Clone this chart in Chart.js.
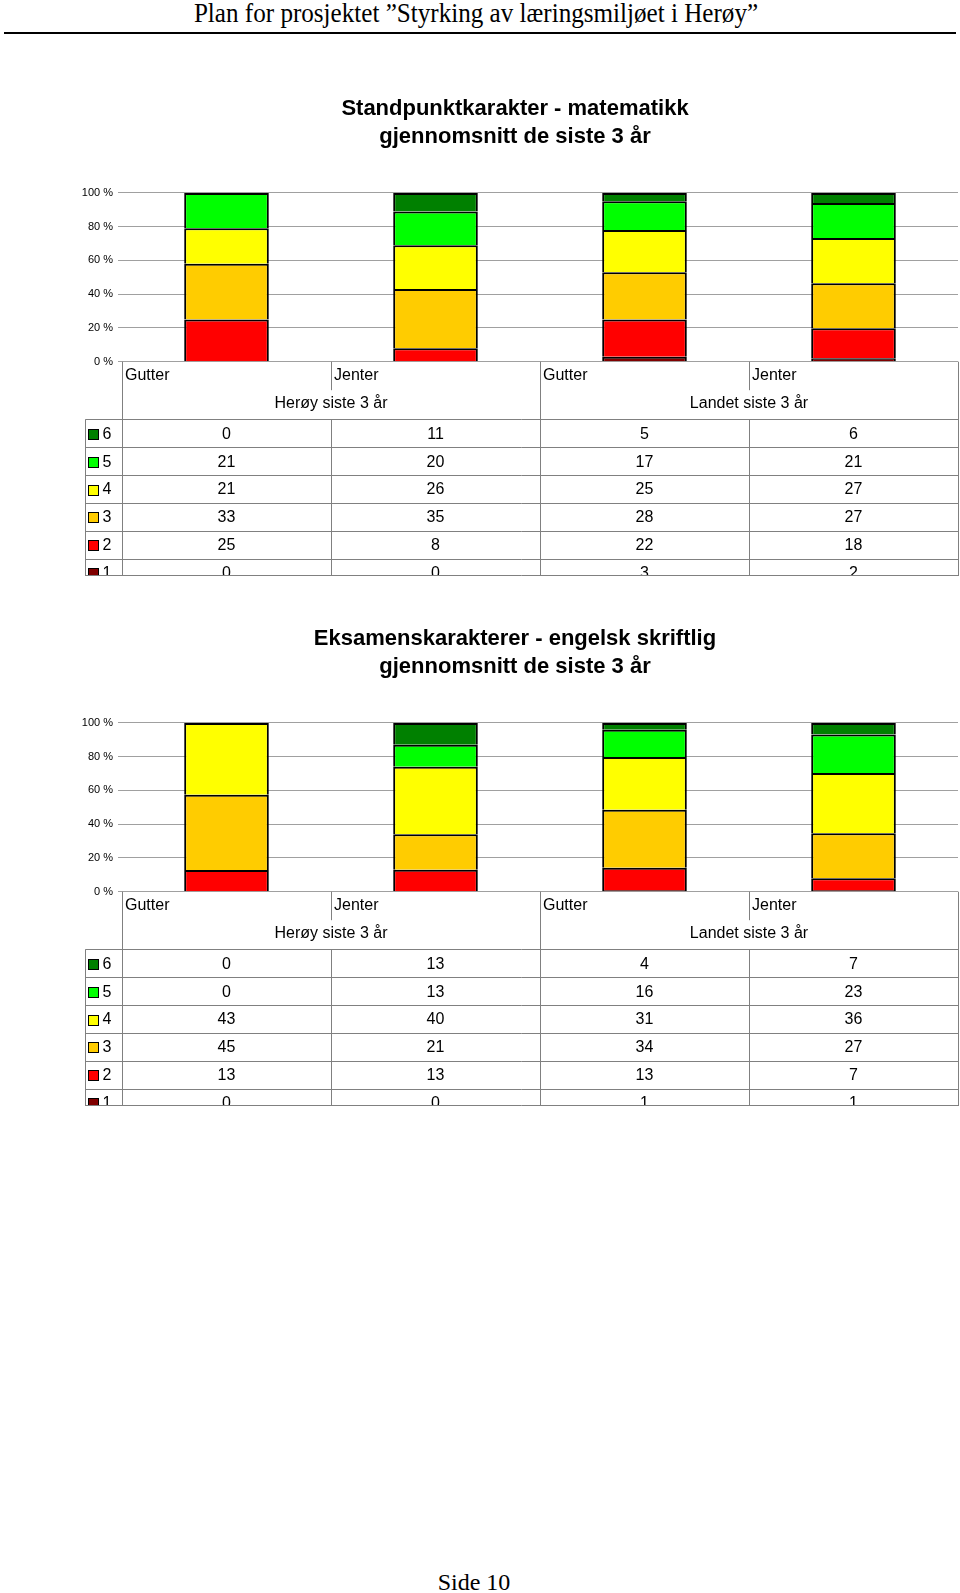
<!DOCTYPE html>
<html>
<head>
<meta charset="utf-8">
<script src="https://cdn.jsdelivr.net/npm/chart.js@4.4.0/dist/chart.umd.min.js"></script>
<style>
  body { margin: 0; background: #fff; width: 960px; height: 1593px; position: relative; overflow: hidden; }
  .serif { position: absolute; font-family: "Liberation Serif", "Times New Roman", serif; font-size: 24px; line-height: 26px; text-align: center; color: #000; }
  #head { left: 0; top: -1px; width: 952px; font-size: 27px; line-height: 28px; transform: scaleX(0.93); transform-origin: 476px 0; }
  #rule { position: absolute; left: 4px; top: 32px; width: 952px; height: 2px; background: #000; }
  #foot { left: 0; top: 1569px; width: 948px; }
  canvas { position: absolute; left: 72px; }
  #mathChart { top: 70px; }
  #engChart { top: 600px; }
</style>
</head>
<body>
<div id="head" class="serif">Plan for prosjektet ”Styrking av læringsmiljøet i Herøy”</div>
<div id="rule"></div>
<canvas id="mathChart" width="888" height="510"></canvas>
<canvas id="engChart" width="888" height="510"></canvas>
<div id="foot" class="serif">Side 10</div>

<script>
const categories = ["Gutter", "Jenter", "Gutter", "Jenter"];
const groups = ["Herøy siste 3 år", "Landet siste 3 år"];
const grades = ["6", "5", "4", "3", "2", "1"];
const yTickLabels = ["0 %", "20 %", "40 %", "60 %", "80 %", "100 %"];

// Standpunktkarakter matematikk (prosent per karakter)
const math6 = [0, 11, 5, 6];
const math5 = [21, 20, 17, 21];
const math4 = [21, 26, 25, 27];
const math3 = [33, 35, 28, 27];
const math2 = [25, 8, 22, 18];
const math1 = [0, 0, 3, 2];

// Eksamenskarakterer engelsk skriftlig
const eng6 = [0, 13, 4, 7];
const eng5 = [0, 13, 16, 23];
const eng4 = [43, 40, 31, 36];
const eng3 = [45, 21, 34, 27];
const eng2 = [13, 13, 13, 7];
const eng1 = [0, 0, 1, 1];

const gradeColors = ["#008000", "#00ff00", "#ffff00", "#ffcc00", "#ff0000", "#800000"];
const sans = '"Liberation Sans", Arial, sans-serif';

// draws the data table under the plot, columns follow the x scale
function tablePlugin(rows) {
  return {
    id: "dataTable",
    afterDraw(chart) {
      const ctx = chart.ctx;
      const a = chart.chartArea;
      const xs = chart.scales.x;
      const n = categories.length;
      const colW = (a.right - a.left) / n;
      const legendLeft = a.left - 37;
      const head1 = 28.5, headH = 57.6, rowH = 27.9;
      const top = a.bottom;
      const tTop = top + headH;
      const bottom = top + 214.3;

      ctx.save();
      ctx.strokeStyle = "#808080";
      ctx.lineWidth = 1;
      ctx.beginPath();
      for (let i = 0; i <= n; i++) {
        const px = Math.round(a.left + i * colW) + 0.5;
        if (i % 2 === 0) {
          ctx.moveTo(px, top); ctx.lineTo(px, bottom);
        } else {
          ctx.moveTo(px, top); ctx.lineTo(px, top + head1);
          ctx.moveTo(px, tTop); ctx.lineTo(px, bottom);
        }
      }
      const lx = Math.round(legendLeft) + 0.5;
      ctx.moveTo(lx, tTop); ctx.lineTo(lx, bottom);
      for (let r = 0; r < rows.length; r++) {
        const py = Math.round(tTop + r * rowH) + 0.5;
        ctx.moveTo(lx, py); ctx.lineTo(a.right, py);
      }
      const by = Math.round(bottom) - 0.5;
      ctx.moveTo(lx, by); ctx.lineTo(a.right, by);
      ctx.stroke();

      ctx.fillStyle = "#000";
      ctx.font = "16px " + sans;
      ctx.textBaseline = "middle";
      ctx.textAlign = "left";
      categories.forEach((c, i) => {
        ctx.fillText(c, xs.getPixelForValue(i) - colW / 2 + 3, top + 13.5);
      });
      ctx.textAlign = "center";
      groups.forEach((g, k) => {
        const mid = (xs.getPixelForValue(2 * k) + xs.getPixelForValue(2 * k + 1)) / 2;
        ctx.fillText(g, mid, top + 41.5);
      });

      // last row is cut off, like in the original
      ctx.beginPath();
      ctx.rect(legendLeft, tTop, a.right - legendLeft + 1, bottom - tTop - 1);
      ctx.clip();
      rows.forEach((vals, r) => {
        const cy = tTop + r * rowH + rowH / 2 + 1;
        const sy = Math.round(cy - 5.5);
        ctx.fillStyle = gradeColors[r];
        ctx.fillRect(legendLeft + 3, sy, 11, 11);
        ctx.strokeStyle = "#000";
        ctx.strokeRect(Math.round(legendLeft) + 3.5, sy + 0.5, 10, 10);
        ctx.fillStyle = "#000";
        ctx.textAlign = "left";
        ctx.fillText(grades[r], legendLeft + 17.5, cy);
        ctx.textAlign = "center";
        vals.forEach((v, i) => ctx.fillText(String(v), xs.getPixelForValue(i), cy));
      });
      ctx.restore();
    }
  };
}

function buildChart(id, title, rows) {
  const totals = categories.map((_, i) => rows.reduce((s, r) => s + r[i], 0));
  const datasets = rows.map((r, k) => ({
    label: grades[k],
    data: r.map((v, i) => v / totals[i] * 100),
    backgroundColor: gradeColors[k],
    borderColor: "#000",
    borderWidth: 2,
    borderSkipped: "start",
    categoryPercentage: 1,
    barPercentage: 0.405
  })).reverse();

  new Chart(document.getElementById(id), {
    type: "bar",
    data: { labels: categories, datasets: datasets },
    options: {
      responsive: false,
      animation: false,
      devicePixelRatio: 1,
      layout: { padding: { left: 0, right: 2, top: 0, bottom: 218.3 } },
      plugins: {
        legend: { display: false },
        tooltip: { enabled: false },
        title: {
          display: true,
          text: title,
          color: "#000",
          font: { family: sans, size: 22, weight: "bold", lineHeight: 1.27 },
          padding: { top: 25, bottom: 42 }
        }
      },
      scales: {
        x: { stacked: true, display: false },
        y: {
          stacked: true,
          min: 0,
          max: 100,
          ticks: {
            stepSize: 20,
            color: "#000",
            padding: 5,
            font: { family: sans, size: 11 },
            callback: (v, i) => yTickLabels[i]
          },
          grid: { color: "#a0a0a0", tickLength: 4 },
          border: { display: false },
          afterFit: axis => { axis.width = 50; }
        }
      }
    },
    plugins: [tablePlugin(rows)]
  });
}

buildChart("mathChart", ["Standpunktkarakter - matematikk", "gjennomsnitt de siste 3 år"],
  [math6, math5, math4, math3, math2, math1]);
buildChart("engChart", ["Eksamenskarakterer - engelsk skriftlig", "gjennomsnitt de siste 3 år"],
  [eng6, eng5, eng4, eng3, eng2, eng1]);
</script>
</body>
</html>
